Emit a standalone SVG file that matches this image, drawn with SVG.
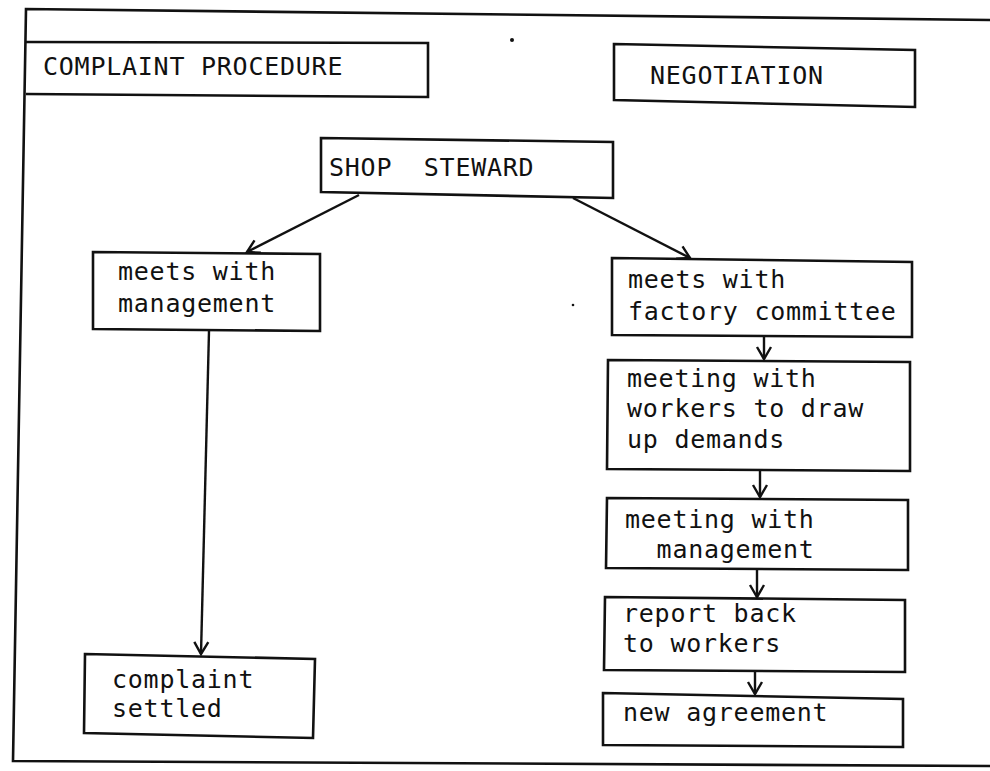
<svg xmlns="http://www.w3.org/2000/svg" width="990" height="771" viewBox="0 0 990 771">
<defs>
<style>
.box{fill:none;stroke:#111;stroke-width:2.6;stroke-linejoin:miter}
.frame{fill:none;stroke:#111;stroke-width:2.6}
.conn{fill:none;stroke:#111;stroke-width:2.4}
.t{font-family:"DejaVu Sans Mono","Liberation Mono",monospace;font-size:25px;letter-spacing:0.75px;fill:#111;white-space:pre}
</style>
<marker id="arr" markerUnits="userSpaceOnUse" markerWidth="18" markerHeight="18" refX="13" refY="8" orient="auto" viewBox="0 0 18 16">
<path d="M1,1 L13,8 L1,15" fill="none" stroke="#111" stroke-width="2.4"/>
</marker>
</defs>
<rect width="990" height="771" fill="#fff"/>
<g id="frame">
<path class="frame" d="M990,20 L26,9 L13,761 L990,766"/>
</g>
<g id="complaint-procedure">
<path class="box" d="M26,42 L428,43 L428,97 L26,94"/>
<text class="t" x="43" y="75">COMPLAINT PROCEDURE</text>
</g>
<g id="negotiation">
<path class="box" d="M614,44 L915,50 L915,107 L614,100 Z"/>
<text class="t" x="650" y="84">NEGOTIATION</text>
</g>
<g id="shop-steward">
<path class="box" d="M321,138 L613,142 L613,198 L321,192 Z"/>
<text class="t" x="329" y="176">SHOP  STEWARD</text>
</g>
<g id="meets-management">
<path class="box" d="M93,252 L320,254 L320,331 L93,329 Z"/>
<text class="t" x="118" y="280">meets with</text>
<text class="t" x="118" y="312">management</text>
</g>
<g id="complaint-settled">
<path class="box" d="M85,654 L315,659 L313,738 L84,733 Z"/>
<text class="t" x="112" y="688">complaint</text>
<text class="t" x="112" y="717">settled</text>
</g>
<g id="factory-committee">
<path class="box" d="M612,258 L912,262 L912,337 L612,335 Z"/>
<text class="t" x="628" y="288">meets with</text>
<text class="t" x="628" y="320">factory committee</text>
</g>
<g id="workers-demands">
<path class="box" d="M608,360 L910,362 L910,471 L607,469 Z"/>
<text class="t" x="627" y="387">meeting with</text>
<text class="t" x="627" y="417">workers to draw</text>
<text class="t" x="627" y="448">up demands</text>
</g>
<g id="meeting-management">
<path class="box" d="M607,498 L908,500 L908,570 L606,568 Z"/>
<text class="t" x="625" y="528">meeting with</text>
<text class="t" x="625" y="558">  management</text>
</g>
<g id="report-back">
<path class="box" d="M605,597 L905,600 L905,672 L604,670 Z"/>
<text class="t" x="623" y="622">report back</text>
<text class="t" x="623" y="652">to workers</text>
</g>
<g id="new-agreement">
<path class="box" d="M603,693 L903,699 L903,747 L603,745 Z"/>
<text class="t" x="623" y="721">new agreement</text>
</g>
<g id="connectors">
<line class="conn" x1="359" y1="195" x2="247" y2="252" marker-end="url(#arr)"/>
<line class="conn" x1="573" y1="198" x2="690" y2="258" marker-end="url(#arr)"/>
<line class="conn" x1="209" y1="331" x2="201" y2="654" marker-end="url(#arr)"/>
<line class="conn" x1="764" y1="337" x2="764" y2="359" marker-end="url(#arr)"/>
<line class="conn" x1="760" y1="471" x2="760" y2="497" marker-end="url(#arr)"/>
<line class="conn" x1="757" y1="570" x2="757" y2="597" marker-end="url(#arr)"/>
<line class="conn" x1="755" y1="672" x2="755" y2="694" marker-end="url(#arr)"/>
</g>
<circle cx="512" cy="40" r="2" fill="#111"/>
<circle cx="573" cy="305" r="1.3" fill="#111"/>
</svg>
